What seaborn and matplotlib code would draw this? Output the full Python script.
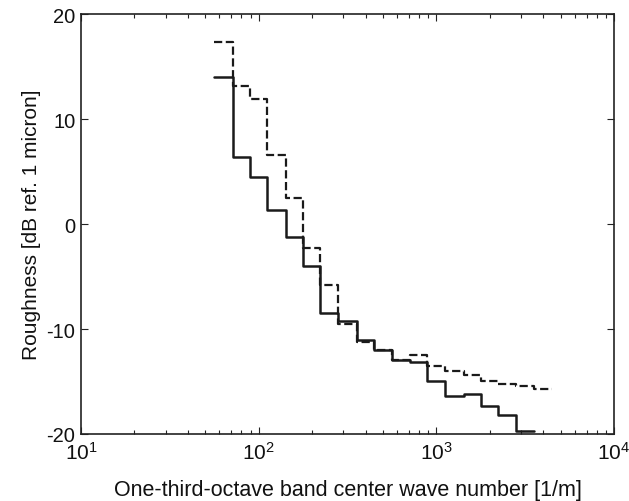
import numpy as np
import pandas as pd
import matplotlib
matplotlib.use("Agg")
import matplotlib.pyplot as plt
import seaborn as sns

# One-third-octave band centre wave numbers [1/m]
bands_solid = [63, 80, 100, 125, 160, 200, 250, 315, 400, 500, 630, 800,
               1000, 1250, 1600, 2000, 2500, 3150]
rough_solid = [14.0, 6.4, 4.5, 1.3, -1.2, -4.0, -8.5, -9.2, -11.0, -12.0,
               -13.0, -13.1, -15.0, -16.4, -16.2, -17.3, -18.2, -19.7]

bands_dashed = [63, 80, 100, 125, 160, 200, 250, 315, 400, 500, 630, 800,
                1000, 1250, 1600, 2000, 2500, 3150, 4000]
rough_dashed = [17.3, 13.1, 11.9, 6.6, 2.5, -2.3, -5.8, -9.5, -11.2, -12.0,
                -13.0, -12.5, -13.5, -14.0, -14.4, -15.0, -15.2, -15.4, -15.7]

xticks = [10, 100, 1000, 10000]
yticks = [-20, -10, 0, 10, 20]


def step_frame(centres, values):
    c = np.asarray(centres, dtype=float)
    v = list(values)
    half = 2 ** (1 / 6)
    x = list(c / half) + [c[-1] * half]
    y = v + [v[-1]]
    return pd.DataFrame({"x": x, "y": y})


sns.set_theme(style="white")
plt.rcParams["font.family"] = ["Liberation Sans", "DejaVu Sans"]
plt.rcParams["mathtext.fontset"] = "custom"
plt.rcParams["mathtext.rm"] = "Liberation Sans"
plt.rcParams["mathtext.it"] = "Liberation Sans"
plt.rcParams["mathtext.default"] = "regular"
plt.rcParams["axes.unicode_minus"] = False

fig = plt.figure(figsize=(6.29, 5.02), dpi=100)
ax = fig.add_axes([0.1288, 0.1335, 0.8474, 0.8365])

ds = step_frame(bands_solid, rough_solid)
dd = step_frame(bands_dashed, rough_dashed)

sns.lineplot(data=dd, x="x", y="y", ax=ax, drawstyle="steps-post",
             color="#1a1a1a", lw=1.6, linestyle="--", sort=False)
sns.lineplot(data=ds, x="x", y="y", ax=ax, drawstyle="steps-post",
             color="#1a1a1a", lw=1.8, linestyle="-", sort=False)

ax.set_xscale("log")
ax.set_xlim(10, 10000)
ax.set_ylim(-20, 20)
ax.set_xticks(xticks)
ax.set_yticks(yticks)

for s in ax.spines.values():
    s.set_color("#222222")
    s.set_linewidth(1.2)

ax.tick_params(which="both", direction="in", top=True, right=True,
               bottom=True, left=True, colors="#222222",
               labelcolor="#111111")
ax.tick_params(which="major", length=5, width=0.8)
ax.tick_params(which="minor", length=3, width=0.8)
ax.tick_params(axis="x", labelsize=15, pad=5)
ax.tick_params(axis="y", labelsize=14.5, pad=4)

ax.set_xlabel("One-third-octave band center wave number [1/m]",
              fontsize=15.5, color="#111111", labelpad=12)
ax.set_ylabel("Roughness [dB ref. 1 micron]", fontsize=15,
              color="#111111", labelpad=4)

fig.savefig("out.png", dpi=100)
